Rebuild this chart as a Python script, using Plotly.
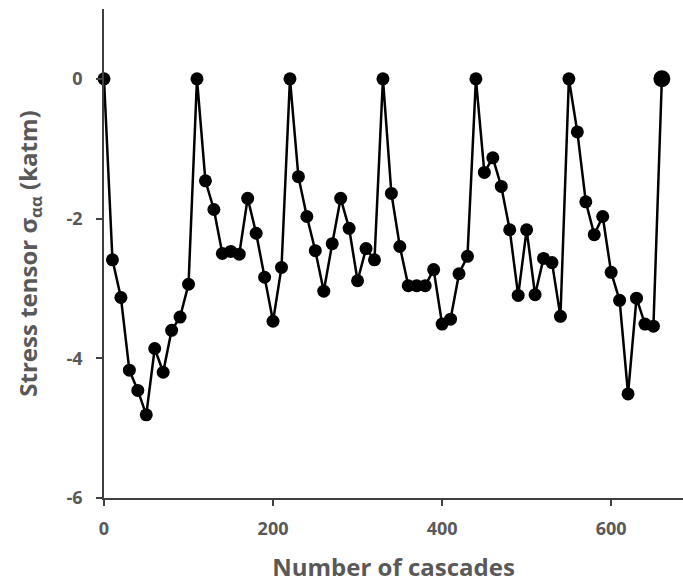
import plotly.graph_objects as go

# cascade number (every 10 cascades)
cascades = list(range(0, 670, 10))

# stress tensor sigma_aa (katm)
stress = [
    0.00, -2.59, -3.13, -4.17, -4.46, -4.81, -3.86, -4.20, -3.60, -3.41,
    -2.94, 0.00, -1.46, -1.87, -2.50, -2.47, -2.51, -1.71, -2.21, -2.84,
    -3.47, -2.70, 0.00, -1.40, -1.97, -2.46, -3.04, -2.36, -1.71, -2.14,
    -2.89, -2.43, -2.59, 0.00, -1.64, -2.40, -2.96, -2.96, -2.96, -2.73,
    -3.51, -3.44, -2.79, -2.54, 0.00, -1.34, -1.13, -1.54, -2.16, -3.10,
    -2.16, -3.09, -2.57, -2.63, -3.40, 0.00, -0.76, -1.76, -2.23, -1.97,
    -2.77, -3.17, -4.51, -3.14, -3.51, -3.54, 0.00,
]

x_ticks = [0, 200, 400, 600]
y_ticks = [0, -2, -4, -6]
y_ticklabels = ["0", "-2", "-4", "-6"]

grey = "#595959"
axis_col = "#404040"
font_family = "'Open Sans', sans-serif"

sizes = [13] * (len(cascades) - 1) + [17]

fig = go.Figure()
fig.add_trace(go.Scatter(
    x=cascades, y=stress,
    mode="lines+markers",
    line=dict(color="black", width=2.5),
    marker=dict(color="black", size=sizes, opacity=1, line=dict(color="black", width=0)),
    cliponaxis=False,
    showlegend=False,
))

fig.update_layout(
    width=683, height=583,
    margin=dict(l=104, r=0, t=9, b=85),
    paper_bgcolor="white", plot_bgcolor="white",
    font=dict(family=font_family, color=grey),
)
fig.update_xaxes(
    range=[0, 685], automargin=False,
    tickvals=x_ticks,
    ticks="outside", ticklen=6, tickwidth=1.5, tickcolor=axis_col,
    showline=True, linecolor=axis_col, linewidth=1.5,
    showgrid=False, zeroline=False,
    tickfont=dict(size=18, color=grey, family=font_family, weight="bold"),
    ticklabelstandoff=8,
    title=dict(text="<b>Number of cascades</b>", font=dict(size=24, color=grey), standoff=24),
)
fig.update_yaxes(
    range=[-6, 1], automargin=False,
    tickvals=y_ticks, ticktext=y_ticklabels,
    ticks="outside", ticklen=6, tickwidth=1.5, tickcolor=axis_col,
    showline=True, linecolor=axis_col, linewidth=1.5,
    showgrid=False, zeroline=False,
    tickfont=dict(size=18, color=grey, family=font_family, weight="bold"),
    ticklabelstandoff=10,
    title=dict(text="<b>Stress tensor σ<sub>αα</sub> (katm)</b>", font=dict(size=24, color=grey), standoff=22),
)

# drop the default body margin so the figure sits at the page corner
fig.write_html("out.html", config={"displayModeBar": False},
               post_script="document.body.style.margin='0';")
